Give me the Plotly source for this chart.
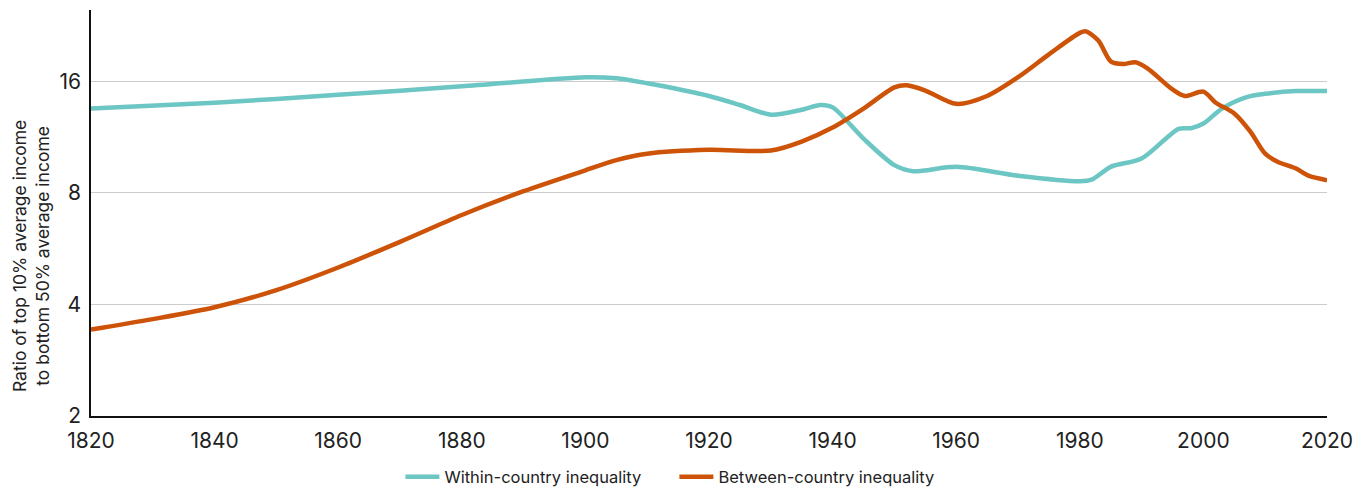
import plotly.graph_objects as go
import math

within_years = [1820, 1840, 1860, 1880, 1900, 1905, 1910, 1920, 1925, 1930, 1935, 1938, 1940,
                1945, 1950, 1953, 1960, 1970, 1980, 1982, 1985, 1990, 1996, 1998, 2000, 2003,
                2007, 2010, 2015, 2020]
within_vals = [13.5, 14.0, 14.7, 15.5, 16.4, 16.3, 15.8, 14.6, 13.8, 13.0, 13.4, 13.8, 13.6,
               11.2, 9.5, 9.15, 9.4, 8.9, 8.6, 8.7, 9.4, 9.9, 11.9, 11.95, 12.3, 13.5,
               14.5, 14.8, 15.05, 15.05]

between_years = [1820, 1830, 1840, 1850, 1860, 1870, 1880, 1890, 1900, 1905, 1910, 1920, 1930,
                 1935, 1940, 1945, 1950, 1952, 1955, 1960, 1965, 1970, 1975, 1980, 1981, 1983,
                 1985, 1987, 1989, 1991, 1995, 1997, 2000, 2002, 2005, 2007.6, 2010, 2012,
                 2015, 2017, 2020]
between_vals = [3.42, 3.65, 3.93, 4.37, 5.03, 5.9, 6.97, 8.08, 9.2, 9.8, 10.2, 10.45, 10.4,
                11.0, 12.0, 13.5, 15.4, 15.6, 15.1, 13.9, 14.6, 16.4, 18.9, 21.6, 21.8, 20.6,
                18.1, 17.8, 18.0, 17.3, 15.2, 14.6, 15.0, 14.0, 13.1, 11.7, 10.2, 9.7,
                9.3, 8.9, 8.65]

y_ticks = [2, 4, 8, 16]
x_ticks = list(range(1820, 2021, 20))
y_title = "Ratio of top 10% average income<br>to bottom 50% average income"

TEAL = "#6cc6c3"
ORANGE = "#cc5308"
FONT = "Inter, Roboto, sans-serif"

fig = go.Figure()
fig.add_trace(go.Scatter(x=within_years, y=within_vals, mode="lines",
                         name="Within-country inequality",
                         line=dict(color=TEAL, width=4.5, shape="spline", smoothing=0.8)))
fig.add_trace(go.Scatter(x=between_years, y=between_vals, mode="lines",
                         name="Between-country inequality",
                         line=dict(color=ORANGE, width=4.5, shape="spline", smoothing=0.8)))

# page body has an 8px default margin, so the figure is sized to fit the 1362x496 window
fig.update_layout(
    width=1354, height=488,
    margin=dict(l=83, r=35, t=2, b=76),
    paper_bgcolor="white", plot_bgcolor="white",
    font=dict(family=FONT, color="#222222", size=16),
    showlegend=True,
    legend=dict(orientation="h", x=0.472, xanchor="center", y=-0.15, yanchor="middle",
                font=dict(size=16.5, color="#222222"), itemwidth=34, tracegroupgap=0,
                entrywidth=225, entrywidthmode="pixels"),
    xaxis=dict(range=[1820, 2020], tickvals=x_ticks, showgrid=False, zeroline=False,
               showline=True, linecolor="#111111", linewidth=1.5, ticks="",
               tickfont=dict(size=21), automargin=False, ticklabelstandoff=5),
    yaxis=dict(type="log", range=[math.log10(2), math.log10(24.9)], tickvals=y_ticks,
               ticktext=[str(v) for v in y_ticks],
               showgrid=True, gridcolor="#cccccc", gridwidth=1, zeroline=False,
               showline=True, linecolor="#111111", linewidth=1.5, ticks="",
               tickfont=dict(size=21), automargin=False, ticklabelstandoff=4),
    annotations=[dict(text=y_title, textangle=-90, xref="paper", yref="paper",
                      x=-0.049, y=0.395, xanchor="center", yanchor="middle",
                      showarrow=False, font=dict(size=17.5, color="#222222"))],
)

fig.write_html("out.html")
